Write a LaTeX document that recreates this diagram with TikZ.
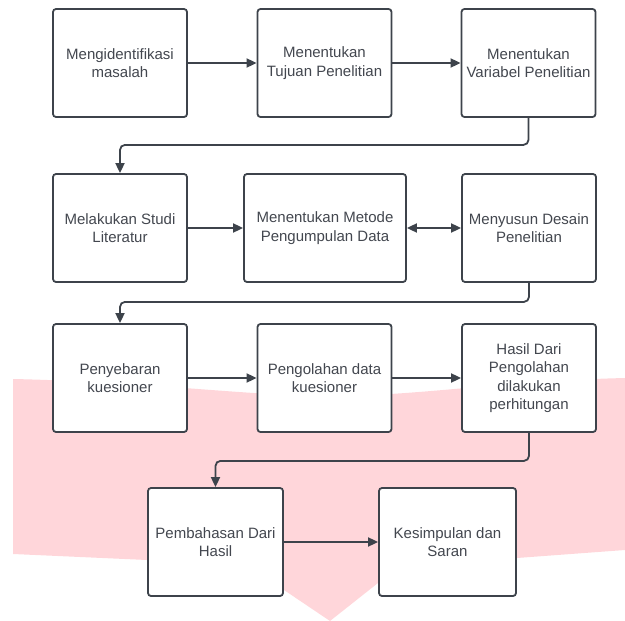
\documentclass[tikz,border=0pt]{standalone}
\usepackage{fontspec}
\setmainfont{Liberation Sans}
\usetikzlibrary{arrows.meta}
\definecolor{ln}{HTML}{3D434B}
\definecolor{tx}{HTML}{43474F}
\definecolor{pinkbg}{HTML}{FFD6DA}
\begin{document}
\begin{tikzpicture}[x=1pt,y=-1pt,
  box/.style={draw=ln, line width=1.8pt, rounded corners=3pt, fill=white,
    minimum width=134pt, minimum height=108pt, align=center, text=tx,
    font=\fontsize{15}{18.5}\selectfont, inner sep=2pt},
  conn/.style={draw=ln, line width=1.8pt, rounded corners=5pt,
    -{Triangle[length=10pt,width=9pt]}},
  conn2/.style={draw=ln, line width=1.8pt,
    {Triangle[length=10pt,width=9pt]}-{Triangle[length=10pt,width=9pt]}}]
\useasboundingbox (0,0) rectangle (625,621);
% pink background shape
\fill[pinkbg] (13,379) .. controls (150,382) and (250,396) .. (330,396)
  .. controls (420,396) and (500,381) .. (625,378) -- (625,550) -- (517,558)
  -- (378,583) -- (330,621) -- (284,590) -- (147,560) -- (13,554) -- cycle;
% row 1
\node[box] (A) at (120,63) {Mengidentifikasi\\masalah};
\node[box] (B) at (324.5,63) {Menentukan\\Tujuan Penelitian};
\node[box] (C) at (528.5,63) {Menentukan\\Variabel Penelitian};
% row 2
\node[box] (D) at (120,228) {Melakukan Studi\\Literatur};
\node[box, minimum width=162pt] (E) at (325,228) {Menentukan Metode\\Pengumpulan Data};
\node[box] (F) at (529,228) {Menyusun Desain\\Penelitian};
% row 3
\node[box] (G) at (120,378) {Penyebaran\\kuesioner};
\node[box] (H) at (324.5,378) {Pengolahan data\\kuesioner};
\node[box] (I) at (529,378) {Hasil Dari\\Pengolahan\\dilakukan\\perhitungan};
% row 4
\node[box, minimum width=135pt] (J) at (215.5,542) {Pembahasan Dari\\Hasil};
\node[box, minimum width=137pt] (K) at (447.5,542) {Kesimpulan dan\\Saran};
% connectors
\draw[conn] (A) -- (B);
\draw[conn] (B) -- (C);
\draw[conn] (C.south) -- ++(0,27) -| (D.north);
\draw[conn] (D) -- (E);
\draw[conn2] (E) -- (F);
\draw[conn] (F.south) -- ++(0,19) -| (G.north);
\draw[conn] (G) -- (H);
\draw[conn] (H) -- (I);
\draw[conn] (I.south) -- ++(0,28) -| (J.north);
\draw[conn] (J) -- (K);
\end{tikzpicture}
\end{document}
